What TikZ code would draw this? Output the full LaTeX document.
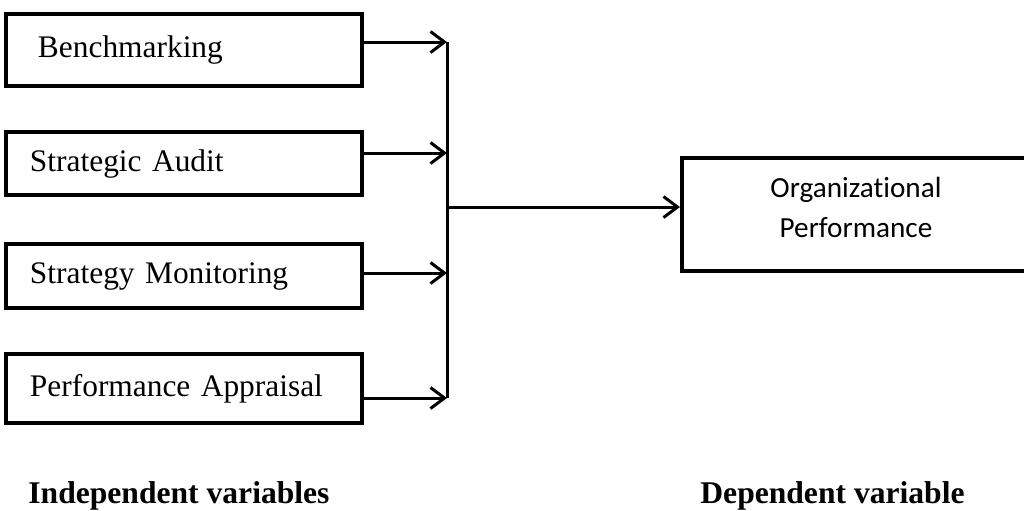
\documentclass[tikz,border=0pt]{standalone}
\usepackage{fontspec}
\setmainfont{Liberation Serif}
\newfontfamily\calibrifont[Ligatures=NoCommon]{Carlito}
\usetikzlibrary{arrows.meta}

\begin{document}
\begin{tikzpicture}[x=0.5pt,y=-0.5pt,>={Straight Barb[length=7pt,width=10.5pt]},
	iv node/.style={rectangle, draw, line width=2pt, minimum width=178pt, text width=154pt, inner xsep=12pt, align=left, font=\fontsize{15.7}{19}\selectfont},
	dv node/.style={rectangle, draw, line width=2pt, minimum width=174pt, minimum height=56.5pt, align=center, text depth=7pt, font=\calibrifont\fontsize{14.6}{20}\selectfont},
	var label/.style={anchor=base west, inner sep=0pt, font=\bfseries\fontsize{15.8}{19}\selectfont},
	link/.style={->, line width=1.5pt}]
			\useasboundingbox (0,0) rectangle (1024,510);
			% Nodes
			\node[iv node, minimum height=36pt] (bench) at (184,50) {\hspace*{4pt}Benchmarking};
			\node[iv node, minimum height=31.5pt] (audit) at (184,163.5) {Strategic Audit};
			\node[iv node, minimum height=32pt] (monitor) at (184,276) {Strategy Monitoring};
			\node[iv node, minimum height=34.5pt] (appraisal) at (184,388.5) {Performance Appraisal};
			\node[dv node] (perf) at (856,214.5) {Organizational\\Performance};
			
			\coordinate (j1) at (447,42);
			\coordinate (j2) at (447,153);
			\coordinate (j3) at (447,273);
			\coordinate (j4) at (447,398);
			\coordinate (jm) at (447,207);
			
			% Connectors
			\draw[link] (bench.east |- j1) -- (j1);
			\draw[link] (audit.east |- j2) -- (j2);
			\draw[link] (monitor.east |- j3) -- (j3);
			\draw[link] (appraisal.east |- j4) -- (j4);
			\draw[line width=1.5pt] (j1) -- (j4);
			\draw[link] (jm) -- (perf.west |- jm);
			
			% Labels
			\node[var label] (indep) at (28,503) {Independent variables};
			\node[var label] (dep) at (700,503) {Dependent variable};
			
		\end{tikzpicture}
\end{document}
